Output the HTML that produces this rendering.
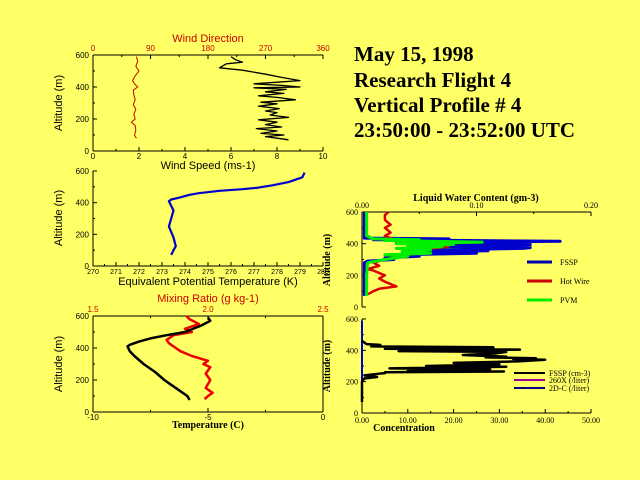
<!DOCTYPE html>
<html><head><meta charset="utf-8"><style>
html,body{margin:0;padding:0;background:#ffff66;}
svg{display:block;}
.t{font-family:"Liberation Serif",serif;font-weight:bold;font-size:21px;fill:#000;}
.s{font-family:"Liberation Sans",sans-serif;font-size:11px;}
.tk{font-family:"Liberation Sans",sans-serif;font-size:8px;}
.tk7{font-family:"Liberation Sans",sans-serif;font-size:7px;}
.sr{font-family:"Liberation Serif",serif;font-weight:bold;font-size:10px;}
.sr8{font-family:"Liberation Serif",serif;font-size:8px;}
</style></head><body>
<svg id="chart" width="640" height="480" viewBox="0 0 640 480" xmlns="http://www.w3.org/2000/svg">
<rect width="640" height="480" fill="#ffff66"/>
<g>
<text class="t" x="354" y="61">May 15, 1998</text>
<text class="t" x="354" y="87">Research Flight 4</text>
<text class="t" x="354" y="112">Vertical Profile # 4</text>
<text class="t" x="354" y="137">23:50:00 - 23:52:00 UTC</text>
</g>
<g id="plots"></g>
</svg>
<script>
// Wind panel
const windSpeedAlt=[590,570,555,545,520,505,480,460,450,440,430,420,410,400,395,385,370,360,345,335,320,305,295,280,265,250,240,225,210,195,180,165,150,140,125,110,100,90,80,70];
const windSpeedVal=[6.0,6.2,6.5,5.8,5.5,6.5,7.5,8.2,8.6,9.0,8.0,7.0,8.2,9.0,7.0,8.4,7.5,8.3,7.2,8.0,8.8,7.3,8.0,7.2,8.1,7.5,8.0,7.7,8.5,7.2,8.0,7.5,8.2,7.1,8.0,7.3,8.3,7.5,8.0,8.5];
const windDirAlt=[590,560,530,500,470,440,420,400,380,350,320,290,260,230,200,180,160,130,100,80];
const windDirVal=[68,70,67,72,66,62,65,70,63,64,66,63,67,64,66,60,66,67,65,68];
// Theta-e panel
const thetaAlt=[70,100,125,180,250,300,350,380,410,420,430,450,460,475,485,495,510,530,560,590];
const thetaVal=[273.4,273.5,273.6,273.5,273.3,273.4,273.5,273.4,273.3,273.4,273.7,274.2,274.6,275.5,276.5,277.2,277.8,278.5,279.1,279.2];
// Temperature / mixing ratio
const tempAlt=[75,100,130,170,200,250,300,350,380,410,420,440,460,480,500,540,570,590];
const tempVal=[-5.8,-5.9,-6.2,-6.6,-6.9,-7.3,-7.8,-8.2,-8.4,-8.5,-8.4,-8.0,-7.5,-6.8,-6.0,-5.3,-4.9,-5.0];
const mixAlt=[80,100,120,150,200,240,280,300,320,350,380,400,430,450,480,500,520,550,580,600];
const mixVal=[1.985,2.0,2.02,1.99,2.01,1.99,2.01,1.98,2.0,1.93,1.88,1.86,1.83,1.82,1.85,1.93,1.9,1.96,1.92,1.906];
// LWC panel
const lwcAlt=[600,550,500,450,435,430,425,415,405,395,385,375,370,360,355,345,340,330,320,310,300,290,280,250,200,150,100,70];
const fsspLwc=[0.002,0.002,0.002,0.002,0.002,0.076,0.01,0.173,0.03,0.147,0.05,0.147,0.14,0.06,0.11,0.04,0.1,0.03,0.05,0.02,0.028,0.005,0.002,0.002,0.002,0.002,0.002,0.002];
const hotAlt=[600,580,550,520,500,470,450,420,400,380,360,340,320,300,280,260,240,230,200,180,160,130,115,100,80];
const hotLwc=[0.023,0.02,0.02,0.025,0.02,0.025,0.02,0.03,0.06,0.075,0.05,0.05,0.03,0.02,0.01,0.015,0.005,0.01,0.02,0.015,0.02,0.03,0.015,0.01,0.005];
const pvmAlt=[600,450,430,425,420,410,400,395,385,380,370,360,350,340,330,320,300,280,200,100,70];
const pvmLwc=[0.004,0.004,0.01,0.05,0.02,0.105,0.03,0.08,0.04,0.07,0.03,0.06,0.035,0.06,0.02,0.04,0.02,0.005,0.004,0.004,0.004];
// Concentration panel
const concAlt=[460,440,435,425,420,410,405,395,390,380,370,365,360,355,350,345,340,330,320,310,300,295,285,280,270,265,260,255,240,230,220,200,100,70];
const concVal=[0,1,4,2,28.7,5,34.5,8,31.5,29,22,26,31.5,27,38,33,40,34.5,20,30,14,31.5,6,28,10,31,5,5,0.5,3.3,0.5,0,0,0];
const lwcTicks=["0.00","0.10","0.20"];
const concTicks=["0.00","10.00","20.00","30.00","40.00","50.00"];

const NS="http://www.w3.org/2000/svg";
const root=document.getElementById('plots');
function mk(tag,attrs,parent){const e=document.createElementNS(NS,tag);for(const k in attrs)e.setAttribute(k,attrs[k]);(parent||root).appendChild(e);return e;}
function txt(s,x,y,cls,fill,anchor,parent){const e=mk('text',{x:x,y:y,class:cls,fill:fill||'#000','text-anchor':anchor||'middle'},parent);e.textContent=s;return e;}
function scale(d0,d1,r0,r1){return v=>r0+(v-d0)/(d1-d0)*(r1-r0);}
function line(alts,vals,xs,ys,color,w,parent){const pts=alts.map((a,i)=>xs(vals[i]).toFixed(1)+','+ys(a).toFixed(1)).join(' ');return mk('polyline',{points:pts,fill:'none',stroke:color,'stroke-width':w,'stroke-linejoin':'round'},parent);}
function yAxis(g,x,ys,ticks,cls,labelCls,ylabel,lx,ly){
  mk('line',{x1:x,y1:ys(600),x2:x,y2:ys(0),stroke:'#000'},g);
  ticks.forEach(v=>{mk('line',{x1:x,y1:ys(v),x2:x+4,y2:ys(v),stroke:'#000'},g);txt(String(v),x-4,ys(v)+3,cls,'#000','end',g);});
  for(let v=100;v<600;v+=200)mk('line',{x1:x,y1:ys(v),x2:x+2,y2:ys(v),stroke:'#000'},g);
  const t=txt(ylabel,lx,ly,labelCls,'#000','middle',g);t.setAttribute('transform','rotate(-90 '+lx+' '+ly+')');
}
function xAxis(g,y,x0,x1,n,labels,cls,color,up,off){
  mk('line',{x1:x0,y1:y,x2:x1,y2:y,stroke:'#000'},g);
  for(let i=0;i<=n;i++){const x=x0+(x1-x0)*i/n;mk('line',{x1:x,y1:y,x2:x,y2:up?y+4:y-4,stroke:'#000'},g);
    if(labels[i]!==undefined&&labels[i]!=='')txt(labels[i],x,up?y-4:y+(off||8),cls,color,'middle',g);}
  for(let i=0;i<n;i++){const x=x0+(x1-x0)*(i+0.5)/n;mk('line',{x1:x,y1:y,x2:x,y2:up?y+2:y-2,stroke:'#000'},g);}
}
// Panel 1
let g=mk('g',{});
let ys=scale(0,600,151,55);
yAxis(g,93,ys,[0,200,400,600],'tk','s','Altitude (m)',62,103);
xAxis(g,151,93,323,5,['0','2','4','6','8','10'],'tk','#000',false,8);
xAxis(g,55,93,323,4,['0','90','180','270','360'],'tk','#cc0000',true);
txt('Wind Speed (ms-1)',208,169,'s','#000','middle',g);
txt('Wind Direction',208,42,'s','#cc0000','middle',g);
let sl=line(windDirAlt,windDirVal,scale(0,360,93,323),ys,'#cc0000',1,g);
sl=line(windSpeedAlt,windSpeedVal,scale(0,10,93,323),ys,'#000',1.3,g);
// Panel 2
g=mk('g',{});
ys=scale(0,600,266,171);
yAxis(g,93,ys,[0,200,400,600],'tk','s','Altitude (m)',62,218);
xAxis(g,266,93,323,10,['270','271','272','273','274','275','276','277','278','279','280'],'tk7','#000',false,8);
txt('Equivalent Potential Temperature (K)',208,285,'s','#000','middle',g);
sl=line(thetaAlt,thetaVal,scale(270,280,93,323),ys,'#0000cc',2.2,g);
// Panel 3
g=mk('g',{});
ys=scale(0,600,412,316);
yAxis(g,93,ys,[0,200,400,600],'tk','s','Altitude (m)',62,364);
xAxis(g,412,93,323,2,['-10','-5','0'],'tk','#000',false,8);
xAxis(g,316,93,323,2,['1.5','2.0','2.5'],'tk','#cc0000',true);
mk('line',{x1:323,y1:316,x2:323,y2:412,stroke:'#000'},g);
txt('Mixing Ratio (g kg-1)',208,302,'s','#cc0000','middle',g);
txt('Temperature (C)',208,428,'sr','#000','middle',g);
sl=line(mixAlt,mixVal,scale(1.5,2.5,93,323),ys,'#ee0000',2.5,g);
sl=line(tempAlt,tempVal,scale(-10,0,93,323),ys,'#000',2.5,g);
// Panel 4 LWC
g=mk('g',{});
ys=scale(0,600,307,212);
yAxis(g,362,ys,[0,200,400,600],'sr8','sr','Altitude (m)',330,260);
xAxis(g,212,362,591,2,lwcTicks,'sr8','#000',true);
txt('Liquid Water Content (gm-3)',476,201,'sr','#000','middle',g);
let xs=scale(0,0.2,362,591);
sl=line(lwcAlt,fsspLwc,xs,ys,'#0000cc',3,g);
sl=line(hotAlt,hotLwc,xs,ys,'#dd0000',2.5,g);
sl=line(pvmAlt,pvmLwc,xs,ys,'#00ee00',3,g);
[['FSSP','#0000aa',262],['Hot Wire','#cc0000',281],['PVM','#00ee00',300]].forEach(l=>{
  const lg=mk('g',{},g);
  mk('line',{x1:527,y1:l[2],x2:552,y2:l[2],stroke:l[1],'stroke-width':3},lg);txt(l[0],560,l[2]+3,'sr8','#000','start',lg);});
// Panel 5 concentration
g=mk('g',{});
ys=scale(0,600,413,319);
yAxis(g,362,ys,[0,200,400,600],'sr8','sr','Altitude (m)',330,366);
xAxis(g,413,362,591,5,concTicks,'sr8','#000',false,10);
txt('Concentration',404,431,'sr','#000','middle',g);
mk('line',{x1:362,y1:ys(590),x2:362,y2:ys(70),stroke:'#0000cc','stroke-width':2},g);
sl=line(concAlt,concVal,scale(0,50,362,591),ys,'#000',2.5,g);
[['FSSP (cm-3)','#000',373],['260X (/liter)','#990099',380],['2D-C (/liter)','#000088',388]].forEach(l=>{
  const lg=mk('g',{},g);
  mk('line',{x1:514,y1:l[2],x2:545,y2:l[2],stroke:l[1],'stroke-width':2},lg);txt(l[0],549,l[2]+3,'sr8','#000','start',lg);});
</script>
</body></html>
